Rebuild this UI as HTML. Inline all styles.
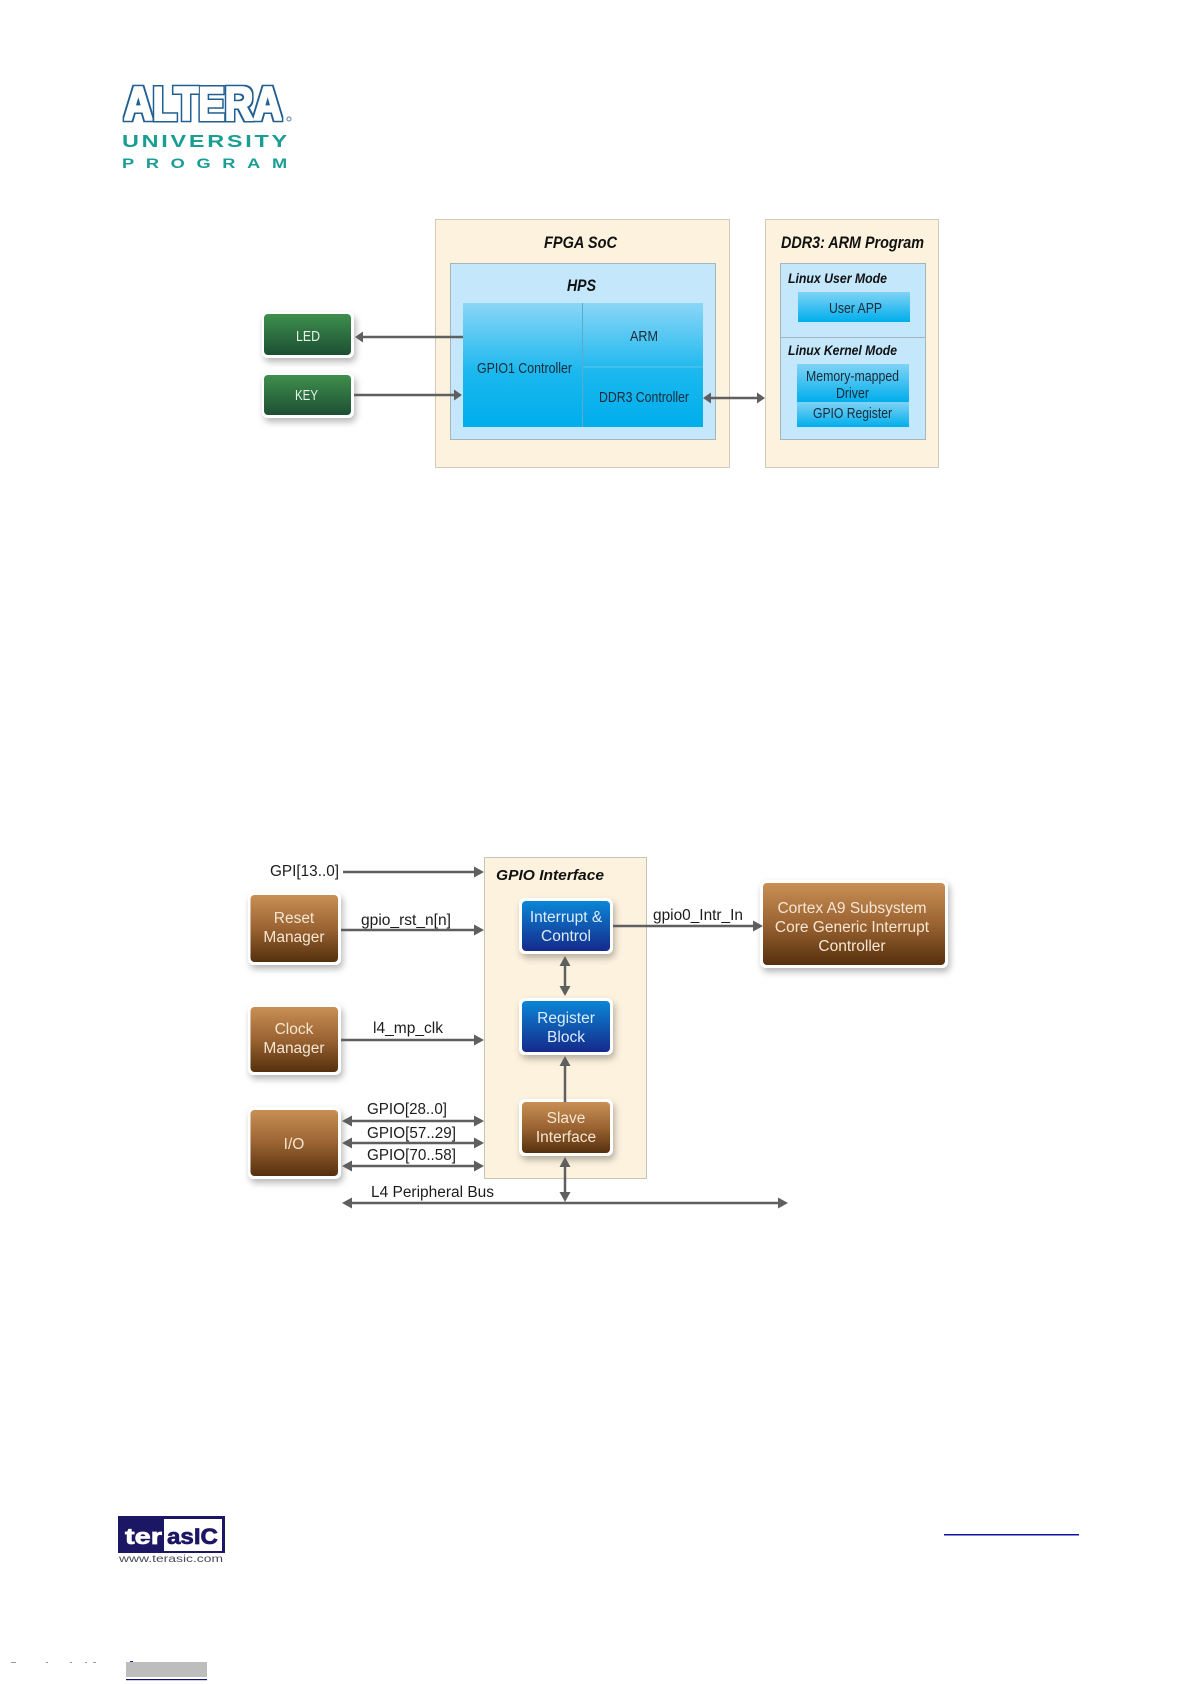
<!DOCTYPE html>
<html><head><meta charset="utf-8"><style>
html,body{margin:0;padding:0;background:#fff;width:1191px;height:1684px;overflow:hidden}
svg{display:block}
text{font-family:"Liberation Sans",sans-serif}
</style></head><body>
<svg width="1191" height="1684" viewBox="0 0 1191 1684" xmlns="http://www.w3.org/2000/svg">
<defs>
<linearGradient id="cy" x1="0" y1="0" x2="0" y2="1"><stop offset="0" stop-color="#8bd6f7"/><stop offset=".55" stop-color="#1cb8ee"/><stop offset="1" stop-color="#00aeec"/></linearGradient>
<linearGradient id="cy1" x1="0" y1="0" x2="0" y2="1"><stop offset="0" stop-color="#7fd3f6"/><stop offset="1" stop-color="#00aeec"/></linearGradient>
<linearGradient id="gr" x1="0" y1="0" x2="0" y2="1"><stop offset="0" stop-color="#3f8f4d"/><stop offset="1" stop-color="#1c4f33"/></linearGradient>
<linearGradient id="br" x1="0" y1="0" x2="0" y2="1"><stop offset="0" stop-color="#c98f55"/><stop offset=".5" stop-color="#9a6332"/><stop offset="1" stop-color="#55300d"/></linearGradient>
<linearGradient id="bl" x1="0" y1="0" x2="0" y2="1"><stop offset="0" stop-color="#0b86d6"/><stop offset="1" stop-color="#142a8c"/></linearGradient>
<filter id="sh" x="-20%" y="-20%" width="140%" height="145%"><feDropShadow dx="2" dy="4" stdDeviation="3.5" flood-color="#000" flood-opacity=".28"/></filter>
<filter id="logo" x="-5%" y="-15%" width="110%" height="130%" color-interpolation-filters="sRGB">
<feMorphology in="SourceAlpha" operator="dilate" radius="2.6" result="o"/>
<feFlood flood-color="#1f5f92"/><feComposite in2="o" operator="in" result="blue"/>
<feMorphology in="SourceAlpha" operator="dilate" radius="1.1" result="i"/>
<feFlood flood-color="#fff"/><feComposite in2="i" operator="in" result="white"/>
<feMerge><feMergeNode in="blue"/><feMergeNode in="white"/></feMerge>
</filter>
</defs>

<!-- Altera logo -->
<text x="124" y="120" font-size="47" font-weight="700" fill="#fff" textLength="158" lengthAdjust="spacingAndGlyphs" filter="url(#logo)">ALTERA</text>
<circle cx="289" cy="119" r="2" fill="none" stroke="#5c87a8" stroke-width="1"/>
<text transform="translate(122,147) scale(1.3,1)" font-size="18" font-weight="700" fill="#1a9e94" textLength="127" lengthAdjust="spacing">UNIVERSITY</text>
<text transform="translate(122,168) scale(1.3,1)" font-size="14" font-weight="700" fill="#1a9e94" textLength="127" lengthAdjust="spacing">PROGRAM</text>

<!-- Diagram 1 -->
<rect x="435.500" y="219.500" width="294" height="248" fill="#fdf2de" stroke="#cfcabb"/>
<rect x="765.500" y="219.500" width="173" height="248" fill="#fdf2de" stroke="#cfcabb"/>
<rect x="450.500" y="263.500" width="265" height="176" fill="#c4e7fb" stroke="#a3b5bd"/>
<rect x="780.500" y="263.500" width="145" height="176" fill="#c4e7fb" stroke="#a3b5bd"/>
<line x1="780" y1="337.500" x2="926" y2="337.500" stroke="#a3b5bd"/>
<rect x="463" y="303" width="240" height="124" fill="url(#cy)"/>
<line x1="582.500" y1="303" x2="582.500" y2="427" stroke="#5ba9cc" stroke-width="1"/>
<line x1="583" y1="367" x2="703" y2="367" stroke="#60c4ea" stroke-width="1"/>
<rect x="798" y="292" width="112" height="30" fill="url(#cy1)"/>
<rect x="797" y="364" width="112" height="38" fill="url(#cy1)"/>
<rect x="797" y="402" width="112" height="25" fill="url(#cy1)"/>

<g font-style="italic" font-weight="700" fill="#111" font-size="17">
<text x="544" y="248" textLength="73" lengthAdjust="spacingAndGlyphs">FPGA SoC</text>
<text x="567" y="291" textLength="29" lengthAdjust="spacingAndGlyphs">HPS</text>
<text x="781" y="248" textLength="143" lengthAdjust="spacingAndGlyphs">DDR3: ARM Program</text>
</g>
<g font-style="italic" font-weight="700" fill="#111" font-size="14">
<text x="788" y="283" textLength="99" lengthAdjust="spacingAndGlyphs">Linux User Mode</text>
<text x="788" y="355" textLength="109" lengthAdjust="spacingAndGlyphs">Linux Kernel Mode</text>
</g>
<g fill="#1a2a38" font-size="14.500">
<text x="477" y="373" textLength="95" lengthAdjust="spacingAndGlyphs">GPIO1 Controller</text>
<text x="630" y="341" textLength="28" lengthAdjust="spacingAndGlyphs">ARM</text>
<text x="599" y="402" textLength="90" lengthAdjust="spacingAndGlyphs">DDR3 Controller</text>
<text x="829" y="313" textLength="53" lengthAdjust="spacingAndGlyphs">User APP</text>
<text x="806" y="381" textLength="93" lengthAdjust="spacingAndGlyphs">Memory-mapped</text>
<text x="836" y="398" textLength="33" lengthAdjust="spacingAndGlyphs">Driver</text>
<text x="813" y="418" textLength="79" lengthAdjust="spacingAndGlyphs">GPIO Register</text>
</g>

<rect x="262" y="312" width="92" height="46" rx="6" fill="#fff" filter="url(#sh)"/>
<rect x="264" y="314" width="87" height="41" rx="4" fill="url(#gr)"/>
<rect x="262" y="373" width="92" height="45" rx="6" fill="#fff" filter="url(#sh)"/>
<rect x="264" y="375" width="87" height="40" rx="4" fill="url(#gr)"/>
<text x="296" y="341" font-size="14.500" fill="#e8f2ea" textLength="24" lengthAdjust="spacingAndGlyphs">LED</text>
<text x="295" y="400" font-size="14.500" fill="#e8f2ea" textLength="23" lengthAdjust="spacingAndGlyphs">KEY</text>

<g stroke="#5f5f5f" stroke-width="2.500" fill="none">
<line x1="362" y1="337" x2="463" y2="337"/>
<line x1="354" y1="395" x2="455" y2="395"/>
<line x1="710" y1="398" x2="758" y2="398"/>
</g>
<g fill="#5f5f5f">
<polygon points="355,337 363,331.500 363,342.500"/>
<polygon points="462,395 454,389.500 454,400.500"/>
<polygon points="703,398 711,392.500 711,403.500"/>
<polygon points="765,398 757,392.500 757,403.500"/>
</g>

<!-- Diagram 2 -->
<rect x="484.500" y="857.500" width="162" height="321" fill="#fdf2de" stroke="#c9c5b6"/>
<text x="496" y="880" font-size="15" font-weight="700" font-style="italic" fill="#111" textLength="108" lengthAdjust="spacingAndGlyphs">GPIO Interface</text>

<g filter="url(#sh)" fill="#fff">
<rect x="248" y="892" width="93" height="73" rx="6"/>
<rect x="248" y="1004" width="93" height="71" rx="6"/>
<rect x="248" y="1107" width="93" height="72" rx="6"/>
<rect x="519" y="898" width="94" height="56" rx="6"/>
<rect x="519" y="998" width="94" height="57" rx="6"/>
<rect x="519" y="1099" width="94" height="57" rx="6"/>
<rect x="760" y="880" width="188" height="88" rx="6"/>
</g>
<rect x="250.500" y="895" width="87.500" height="67" rx="4" fill="url(#br)"/>
<rect x="250.500" y="1007" width="87.500" height="65" rx="4" fill="url(#br)"/>
<rect x="250.500" y="1110" width="87.500" height="66" rx="4" fill="url(#br)"/>
<rect x="522" y="901" width="88" height="50" rx="4" fill="url(#bl)"/>
<rect x="522" y="1001" width="88" height="51" rx="4" fill="url(#bl)"/>
<rect x="522" y="1102" width="88" height="51" rx="4" fill="url(#br)"/>
<rect x="763" y="883" width="182" height="82" rx="4" fill="url(#br)"/>

<g font-size="15.500" text-anchor="middle" fill="#f6e6d2">
<text x="294" y="923">Reset</text>
<text x="294" y="942">Manager</text>
<text x="294" y="1034">Clock</text>
<text x="294" y="1053">Manager</text>
<text x="294" y="1149">I/O</text>
<text x="566" y="1123">Slave</text>
<text x="566" y="1142">Interface</text>
<text x="852" y="913">Cortex A9 Subsystem</text>
<text x="852" y="932">Core Generic Interrupt</text>
<text x="852" y="951">Controller</text>
</g>
<g font-size="15.500" text-anchor="middle" fill="#dcecf9">
<text x="566" y="922">Interrupt &amp;</text>
<text x="566" y="941">Control</text>
<text x="566" y="1023">Register</text>
<text x="566" y="1042">Block</text>
</g>

<g font-size="15.500" fill="#1c1c1c">
<text x="270" y="876" textLength="69" lengthAdjust="spacingAndGlyphs">GPI[13..0]</text>
<text x="361" y="925" textLength="90" lengthAdjust="spacingAndGlyphs">gpio_rst_n[n]</text>
<text x="373" y="1033" textLength="70" lengthAdjust="spacingAndGlyphs">l4_mp_clk</text>
<text x="367" y="1114" textLength="80" lengthAdjust="spacingAndGlyphs">GPIO[28..0]</text>
<text x="367" y="1138" textLength="89" lengthAdjust="spacingAndGlyphs">GPIO[57..29]</text>
<text x="367" y="1160" textLength="89" lengthAdjust="spacingAndGlyphs">GPIO[70..58]</text>
<text x="371" y="1197" textLength="123" lengthAdjust="spacingAndGlyphs">L4 Peripheral Bus</text>
<text x="653" y="920" textLength="90" lengthAdjust="spacingAndGlyphs">gpio0_Intr_In</text>
</g>

<g stroke="#5f5f5f" stroke-width="2.500" fill="none">
<line x1="343" y1="872" x2="476" y2="872"/>
<line x1="341" y1="930" x2="476" y2="930"/>
<line x1="341" y1="1040" x2="476" y2="1040"/>
<line x1="348" y1="1121" x2="478" y2="1121"/>
<line x1="348" y1="1143" x2="478" y2="1143"/>
<line x1="348" y1="1166" x2="478" y2="1166"/>
<line x1="348" y1="1203" x2="782" y2="1203"/>
<line x1="613" y1="926" x2="755" y2="926"/>
<line x1="565" y1="962" x2="565" y2="990"/>
<line x1="565" y1="1062" x2="565" y2="1102"/>
<line x1="565" y1="1163" x2="565" y2="1197"/>
</g>
<g fill="#5f5f5f">
<polygon points="484,872 474,866.500 474,877.500"/>
<polygon points="484,930 474,924.500 474,935.500"/>
<polygon points="484,1040 474,1034.500 474,1045.500"/>
<polygon points="342,1121 352,1115.500 352,1126.500"/>
<polygon points="484,1121 474,1115.500 474,1126.500"/>
<polygon points="342,1143 352,1137.500 352,1148.500"/>
<polygon points="484,1143 474,1137.500 474,1148.500"/>
<polygon points="342,1166 352,1160.500 352,1171.500"/>
<polygon points="484,1166 474,1160.500 474,1171.500"/>
<polygon points="342,1203 352,1197.500 352,1208.500"/>
<polygon points="788,1203 778,1197.500 778,1208.500"/>
<polygon points="763,926 753,920.500 753,931.500"/>
<polygon points="565,956 559.500,966 570.500,966"/>
<polygon points="565,996 559.500,986 570.500,986"/>
<polygon points="565,1056 559.500,1066 570.500,1066"/>
<polygon points="565,1157 559.500,1167 570.500,1167"/>
<polygon points="565,1202 559.500,1192 570.500,1192"/>
</g>

<!-- Footer -->
<rect x="118" y="1516" width="107" height="37" fill="#1b1764"/>
<rect x="164" y="1519" width="58" height="32" fill="#fff"/>
<text x="125" y="1544" font-size="22" font-weight="700" fill="#fff" stroke="#fff" stroke-width=".7" textLength="37" lengthAdjust="spacingAndGlyphs">ter</text>
<text x="167" y="1544" font-size="22" font-weight="700" fill="#1b1764" stroke="#1b1764" stroke-width=".7" textLength="51" lengthAdjust="spacingAndGlyphs">asIC</text>
<text x="119" y="1562" font-size="10.500" fill="#4a4a5e" textLength="104" lengthAdjust="spacingAndGlyphs">www.terasic.com</text>
<rect x="944" y="1534" width="135" height="1.500" fill="#1010a8"/>
<rect x="126" y="1662" width="81" height="15" fill="#bdbdbd"/>
<rect x="126" y="1679" width="81" height="1.200" fill="#101080"/>
<rect x="130" y="1661" width="3" height="1" fill="#202090"/>
<g fill="#9a9a9a">
<rect x="11" y="1662" width="5" height="1"/>
<rect x="46" y="1662" width="2" height="1"/>
<rect x="70" y="1662" width="2" height="1"/>
<rect x="85" y="1662" width="2" height="1"/>
<rect x="93" y="1662" width="3" height="1"/>
</g>
</svg>
</body></html>
